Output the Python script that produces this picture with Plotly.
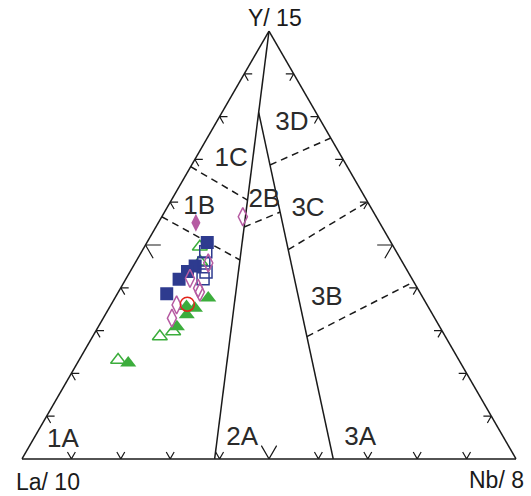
import plotly.graph_objects as go

# ---- sample compositions, as fractions of (Y/15, La/10, Nb/8) ----
green_fill_Y = [0.376, 0.352, 0.337, 0.309, 0.224, 0.356]
green_fill_La = [0.435, 0.474, 0.498, 0.532, 0.673, 0.489]
green_fill_Nb = [0.189, 0.174, 0.165, 0.159, 0.103, 0.155]

green_open_Y = [0.496, 0.461, 0.298, 0.286, 0.231]
green_open_La = [0.392, 0.409, 0.545, 0.578, 0.690]
green_open_Nb = [0.112, 0.130, 0.157, 0.136, 0.079]

blue_fill_Y = [0.506, 0.451, 0.438, 0.420, 0.386]
blue_fill_La = [0.372, 0.424, 0.446, 0.472, 0.514]
blue_fill_Nb = [0.122, 0.125, 0.116, 0.108, 0.100]

blue_open_Y = [0.484, 0.458, 0.437, 0.421]
blue_open_La = [0.386, 0.403, 0.409, 0.423]
blue_open_Nb = [0.130, 0.139, 0.154, 0.156]

pink_fill_Y = [0.552]
pink_fill_La = [0.372]
pink_fill_Nb = [0.076]

pink_open_Y = [0.566, 0.458, 0.422, 0.399, 0.390, 0.360, 0.329]
pink_open_La = [0.270, 0.394, 0.449, 0.444, 0.445, 0.507, 0.532]
pink_open_Nb = [0.164, 0.148, 0.129, 0.157, 0.165, 0.133, 0.139]

red_open_Y = [0.362]
red_open_La = [0.485]
red_open_Nb = [0.154]

# ---- field boundaries (Y, La, Nb) ----
LINE1 = [(1.0, 0.0, 0.0), (0.0, 0.61, 0.39)]          # 1 | 2
LINE2_BOTTOM = (0.0, 0.37, 0.63)                       # 2 | 3
LINE2_START_Y = 0.81

FIELD_LABELS = ["1A", "2A", "3A", "1B", "1C", "2B", "3D", "3C", "3B"]
LABEL_Y = [0.042, 0.047, 0.047, 0.587, 0.699, 0.605, 0.783, 0.582, 0.376]
LABEL_La = [0.896, 0.531, 0.292, 0.348, 0.227, 0.207, 0.062, 0.130, 0.195]
LABEL_Nb = [0.062, 0.422, 0.661, 0.065, 0.074, 0.188, 0.155, 0.288, 0.429]

TICKS = [0.1, 0.2, 0.3, 0.4, 0.5, 0.6, 0.7, 0.8, 0.9]


def on_segment(p, q, y):
    """Point on segment p-q whose Y fraction equals y."""
    t = (p[0] - y) / (p[0] - q[0])
    return tuple(p[i] + t * (q[i] - p[i]) for i in range(3))


LINE2_TOP = on_segment(LINE1[0], LINE1[1], LINE2_START_Y)
LINE2 = [LINE2_TOP, LINE2_BOTTOM]


def l1(y):
    return on_segment(LINE1[0], LINE1[1], y)


def l2(y):
    return on_segment(LINE2[0], LINE2[1], y)


DASHED = [
    [(0.683, 0.317, 0.0), l1(0.605)],     # 1C | 1B
    [(0.566, 0.434, 0.0), l1(0.465)],     # 1B | 1A
    [l1(0.542), l2(0.577)],               # 2B | 2A
    [l2(0.687), (0.750, 0.0, 0.250)],     # 3D | 3C
    [l2(0.489), (0.601, 0.0, 0.399)],     # 3C | 3B
    [l2(0.286), (0.414, 0.0, 0.586)],     # 3B | 3A
]

BLACK = "#1a1a1a"
BLUE = "#2e3b8f"
GREEN = "#3cad3c"
PINK = "#b65ba2"
RED = "#e2231a"
FONT = "Liberation Sans, Arial"


def path(segments):
    a, b, c = [], [], []
    for seg in segments:
        for p in seg:
            a.append(p[0]); b.append(p[1]); c.append(p[2])
        a.append(None); b.append(None); c.append(None)
    return a, b, c


fig = go.Figure()

# solid boundaries
a, b, c = path([LINE1, LINE2])
fig.add_trace(go.Scatterternary(a=a, b=b, c=c, mode="lines", connectgaps=False,
                                line=dict(color=BLACK, width=1.5), hoverinfo="skip"))

# dashed boundaries
a, b, c = path(DASHED)
fig.add_trace(go.Scatterternary(a=a, b=b, c=c, mode="lines", connectgaps=False,
                                line=dict(color=BLACK, width=1.5, dash="7px,5px"),
                                hoverinfo="skip"))

# chevron tick marks on the three edges
chevrons = []
for t in TICKS:
    d = 0.031 if abs(t - 0.5) < 1e-9 else 0.016
    # bottom edge (Y = 0)
    chevrons.append([(d, 1 - t - d, t), (0.0, 1 - t, t), (d, 1 - t, t - d)])
    # left edge (Nb = 0)
    chevrons.append([(t, 1 - t - d, d), (t, 1 - t, 0.0), (t - d, 1 - t, d)])
    # right edge (La = 0)
    chevrons.append([(t, d, 1 - t - d), (t, 0.0, 1 - t), (t - d, d, 1 - t)])
a, b, c = path(chevrons)
fig.add_trace(go.Scatterternary(a=a, b=b, c=c, mode="lines", connectgaps=False,
                                line=dict(color=BLACK, width=1.2), hoverinfo="skip"))

# field labels
fig.add_trace(go.Scatterternary(a=LABEL_Y, b=LABEL_La, c=LABEL_Nb, mode="text",
                                text=FIELD_LABELS, textposition="middle center",
                                textfont=dict(family=FONT, size=26, color="#2a2a2a"),
                                hoverinfo="skip"))


def samples(Y, La, Nb, symbol, color, size, filled):
    marker = dict(symbol=symbol, size=size, color=color,
                  line=dict(color=color, width=0 if filled else 1.5))
    fig.add_trace(go.Scatterternary(a=Y, b=La, c=Nb, mode="markers", marker=marker,
                                    hoverinfo="skip"))


samples(green_open_Y, green_open_La, green_open_Nb, "triangle-up-open", GREEN, 13, False)
samples(green_fill_Y, green_fill_La, green_fill_Nb, "triangle-up", GREEN, 14, True)
samples(blue_fill_Y, blue_fill_La, blue_fill_Nb, "square", BLUE, 13, True)
samples(blue_open_Y, blue_open_La, blue_open_Nb, "square-open", BLUE, 12, False)
samples(pink_fill_Y, pink_fill_La, pink_fill_Nb, "diamond-tall", PINK, 13, True)
samples(pink_open_Y, pink_open_La, pink_open_Nb, "diamond-tall-open", PINK, 13, False)
samples(red_open_Y, red_open_La, red_open_Nb, "circle-open", RED, 14, False)

axis = dict(showgrid=False, showticklabels=False, ticks="", linecolor=BLACK,
            linewidth=1.5, showline=True, title=dict(text=""))

vertex = dict(xref="paper", yref="paper", xanchor="center", yanchor="middle",
              showarrow=False, font=dict(family=FONT, size=23, color=BLACK))

fig.update_layout(
    width=531, height=496,
    margin=dict(l=22, r=15, t=31, b=37),
    paper_bgcolor="white",
    showlegend=False,
    hovermode=False,
    ternary=dict(sum=1, bgcolor="white", aaxis=axis, baxis=axis, caxis=axis),
    font=dict(family=FONT, color=BLACK),
    annotations=[
        dict(text="Y/ 15", x=0.512, y=1.0315, **vertex),
        dict(text="La/ 10", x=0.0526, y=-0.0537, **vertex),
        dict(text="Nb/ 8", x=0.9615, y=-0.0479, **vertex),
    ],
)

fig.write_html("out.html")
